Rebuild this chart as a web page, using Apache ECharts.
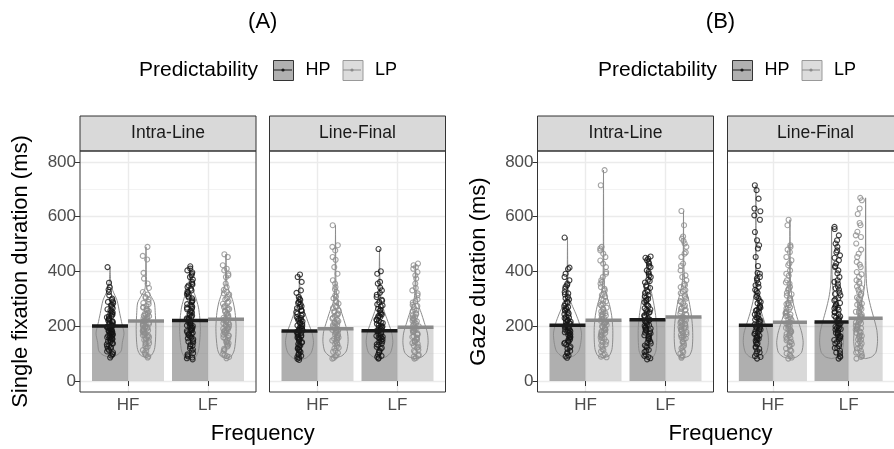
<!DOCTYPE html>
<html><head><meta charset="utf-8">
<script src="https://cdn.jsdelivr.net/npm/echarts@6/dist/echarts.min.js"></script>
<style>html,body{margin:0;padding:0;background:#fff}#c{width:894px;height:449px}</style>
</head><body><div id="c"></div>
<script>
// ---------------- data ----------------
const frequency = ['HF', 'LF'];
const predictability = ['HP', 'LP'];
const positions = ['Intra-Line', 'Line-Final'];
const measures = ['Single fixation duration (ms)', 'Gaze duration (ms)'];
const panelTitles = ['(A)', '(B)'];
const yTickValues = [0, 200, 400, 600, 800];

// mean durations by frequency [HF, LF]
const sfdIntraHP = [201, 221];
const sfdIntraLP = [219, 226];
const sfdFinalHP = [183, 184];
const sfdFinalLP = [191, 196];
const gdIntraHP = [204, 224];
const gdIntraLP = [222, 234];
const gdFinalHP = [204, 216];
const gdFinalLP = [215, 229];

// individual observations (estimated)
const p_sfd_intra_HF_HP = [416, 359, 343, 334, 325, 313, 301, 296, 290, 284, 279, 271, 266, 262, 255, 251, 246, 243, 238, 233, 229, 226, 221, 218, 214, 211, 207, 204, 201, 198, 195, 193, 190, 187, 184, 182, 179, 176, 173, 171, 168, 165, 161, 158, 154, 150, 147, 143, 139, 134, 129, 124, 118, 112, 105, 99, 93, 86,
  289, 276, 258, 248, 236, 224, 216, 209, 203, 197, 191, 186, 180, 175, 170, 166, 160, 156, 152, 145, 137, 127, 120, 108, 97];
const p_sfd_intra_HF_LP = [490, 457, 444, 395, 374, 356, 340, 325, 316, 307, 298, 289, 281, 274, 268, 261, 255, 249, 244, 239, 234, 229, 225, 221, 217, 213, 209, 206, 202, 199, 196, 192, 188, 185, 181, 178, 174, 170, 166, 162, 157, 152, 147, 141, 135, 128, 121, 113, 104, 95, 86,
  303, 285, 270, 258, 246, 237, 227, 219, 211, 204, 197, 190, 183, 176, 168, 160, 150, 138, 125, 110, 99, 90, 264, 242, 223, 208];
const p_sfd_intra_LF_HP = [419, 411, 404, 397, 392, 386, 380, 371, 362, 356, 349, 343, 337, 331, 323, 316, 309, 302, 295, 288, 281, 275, 268, 262, 256, 250, 245, 239, 234, 229, 224, 219, 214, 210, 205, 201, 196, 192, 187, 183, 178, 174, 169, 164, 159, 153, 147, 141, 134, 127, 119, 111, 102, 94, 86, 79,
  352, 327, 305, 291, 278, 265, 253, 242, 231, 221, 212, 203, 194, 185, 176, 167, 156, 144, 130, 115, 98, 90, 83, 318, 271, 226, 199, 172];
const p_sfd_intra_LF_LP = [463, 453, 423, 410, 404, 392, 386, 380, 356, 343, 333, 325, 316, 307, 298, 290, 282, 274, 267, 260, 253, 247, 241, 236, 231, 226, 221, 216, 211, 207, 202, 198, 193, 189, 184, 180, 175, 170, 165, 160, 154, 148, 141, 134, 126, 118, 109, 100, 91, 83,
  320, 302, 286, 270, 257, 244, 233, 223, 213, 204, 195, 186, 177, 167, 157, 144, 130, 114, 96, 88, 263, 218, 191, 138];
const p_sfd_final_HF_HP = [389, 380, 362, 331, 322, 307, 296, 289, 281, 273, 266, 259, 252, 246, 240, 234, 228, 223, 218, 213, 208, 203, 199, 195, 191, 187, 183, 179, 175, 171, 167, 163, 159, 155, 150, 145, 140, 135, 130, 124, 118, 112, 106, 99, 92, 85, 77,
  300, 285, 270, 256, 243, 231, 221, 211, 201, 193, 185, 177, 169, 161, 152, 142, 132, 121, 109, 96, 88, 81, 226, 188, 157, 115];
const p_sfd_final_HF_LP = [569, 496, 490, 477, 453, 443, 416, 392, 368, 356, 343, 325, 313, 302, 292, 283, 274, 266, 258, 251, 244, 237, 231, 225, 219, 214, 209, 204, 199, 194, 189, 185, 180, 176, 171, 166, 161, 156, 151, 145, 139, 133, 126, 119, 111, 103, 94, 85,
  335, 308, 288, 270, 255, 241, 228, 216, 206, 196, 187, 178, 169, 159, 148, 136, 122, 107, 90, 82, 247, 212, 183, 154];
const p_sfd_final_LF_HP = [482, 401, 392, 362, 356, 331, 322, 307, 297, 288, 280, 272, 264, 257, 250, 243, 237, 231, 225, 219, 214, 209, 204, 199, 194, 190, 185, 181, 176, 172, 167, 162, 158, 153, 148, 143, 137, 131, 125, 118, 111, 104, 96, 88, 82,
  341, 315, 293, 276, 260, 246, 234, 222, 212, 202, 192, 183, 174, 165, 155, 145, 134, 121, 107, 92, 85, 239, 196, 160];
const p_sfd_final_LF_LP = [429, 423, 416, 410, 398, 386, 374, 356, 331, 313, 298, 287, 278, 270, 262, 255, 248, 241, 235, 229, 223, 218, 213, 208, 203, 198, 193, 188, 184, 179, 174, 169, 164, 159, 154, 148, 142, 136, 129, 122, 114, 106, 97, 89, 82,
  340, 320, 292, 274, 258, 244, 232, 220, 210, 200, 191, 181, 171, 161, 151, 139, 125, 110, 93, 85, 226, 186, 145];
const p_gd_intra_HF_HP = [524, 414, 409, 392, 380, 368, 356, 345, 337, 325, 316, 307, 298, 290, 282, 274, 267, 260, 253, 247, 241, 235, 230, 225, 220, 215, 210, 206, 201, 197, 193, 188, 184, 180, 176, 171, 167, 162, 157, 152, 146, 140, 133, 126, 118, 110, 101, 93, 85,
  350, 320, 302, 286, 270, 256, 244, 232, 222, 212, 203, 195, 186, 178, 169, 160, 149, 137, 122, 105, 90, 263, 217, 182, 143];
const p_gd_intra_HF_LP = [770, 715, 490, 484, 477, 465, 453, 429, 416, 392, 380, 368, 356, 343, 331, 319, 309, 300, 291, 283, 275, 268, 261, 254, 248, 242, 236, 230, 225, 220, 215, 210, 205, 200, 195, 191, 186, 181, 176, 171, 166, 160, 154, 148, 141, 134, 126, 117, 108, 98, 89,
  440, 398, 362, 337, 314, 295, 279, 264, 251, 239, 227, 217, 207, 198, 188, 178, 168, 157, 144, 130, 113, 94, 87, 245, 212, 183];
const p_gd_intra_LF_HP = [455, 450, 447, 441, 429, 416, 404, 392, 380, 370, 360, 350, 340, 331, 322, 313, 304, 296, 288, 280, 273, 266, 259, 252, 246, 240, 234, 228, 222, 217, 212, 207, 202, 197, 192, 187, 182, 177, 172, 167, 162, 156, 150, 144, 137, 130, 122, 114, 106, 97, 88, 79,
  435, 420, 398, 385, 365, 345, 326, 309, 292, 277, 262, 249, 237, 225, 214, 204, 194, 184, 174, 164, 153, 140, 126, 110, 92, 83, 300, 255, 219, 189];
const p_gd_intra_LF_LP = [621, 569, 528, 520, 512, 502, 490, 465, 453, 429, 404, 386, 368, 355, 343, 332, 321, 311, 301, 292, 284, 276, 268, 261, 254, 247, 241, 235, 229, 223, 218, 212, 207, 202, 197, 192, 187, 182, 176, 171, 165, 159, 152, 145, 137, 129, 120, 111, 101, 92, 85,
  470, 420, 380, 350, 327, 306, 288, 272, 258, 244, 232, 220, 209, 199, 189, 179, 168, 156, 141, 125, 106, 89, 264, 226, 195, 162];
const p_gd_final_HF_HP = [715, 697, 666, 630, 620, 605, 589, 544, 514, 496, 484, 453, 392, 380, 368, 356, 344, 333, 322, 312, 302, 293, 284, 276, 268, 260, 253, 246, 239, 233, 227, 221, 215, 209, 204, 198, 193, 188, 182, 177, 172, 166, 160, 154, 148, 141, 134, 126, 118, 109, 100, 91, 82,
  420, 395, 375, 350, 328, 307, 289, 272, 257, 243, 230, 218, 207, 196, 185, 174, 163, 151, 137, 122, 105, 88, 265, 224, 190, 157];
const p_gd_final_HF_LP = [589, 569, 496, 490, 471, 453, 441, 423, 404, 392, 368, 356, 344, 333, 322, 312, 303, 294, 285, 277, 269, 261, 254, 247, 240, 234, 228, 222, 216, 210, 205, 199, 194, 189, 183, 178, 172, 167, 161, 155, 149, 142, 135, 127, 119, 110, 101, 91, 82,
  480, 430, 385, 360, 338, 317, 298, 281, 265, 251, 237, 225, 213, 202, 191, 180, 169, 157, 144, 130, 114, 96, 86, 243, 208, 175];
const p_gd_final_LF_HP = [563, 555, 532, 514, 502, 490, 477, 459, 441, 429, 416, 404, 380, 368, 356, 345, 334, 323, 313, 303, 294, 285, 276, 268, 260, 252, 245, 238, 231, 225, 219, 213, 207, 201, 195, 190, 184, 179, 173, 168, 162, 156, 150, 143, 136, 128, 120, 111, 101, 91, 82,
  470, 450, 420, 393, 362, 339, 318, 298, 281, 265, 250, 236, 223, 211, 199, 188, 176, 164, 151, 137, 121, 104, 88, 272, 229, 193, 159];
const p_gd_final_LF_LP = [669, 660, 630, 577, 569, 532, 526, 502, 465, 453, 435, 416, 398, 380, 368, 356, 345, 334, 324, 314, 305, 296, 287, 279, 271, 263, 256, 249, 242, 235, 229, 223, 217, 211, 205, 199, 193, 188, 182, 176, 170, 164, 158, 151, 144, 136, 128, 119, 110, 100, 91, 82,
  610, 545, 480, 425, 390, 362, 340, 319, 300, 283, 267, 253, 239, 226, 214, 202, 190, 178, 165, 152, 137, 121, 104, 88, 276, 232, 196];

// violin density profiles: [duration, relative density]
const v_sfd_intra_HF_HP = [[86,0],[95,0.5],[110,0.8],[140,0.88],[175,1],[210,0.85],[246,0.7],[295,0.5],[330,0.2],[360,0.06],[390,0.02],[416,0]];
const v_sfd_intra_HF_LP = [[85,0],[95,0.4],[115,0.6],[150,0.68],[200,0.7],[250,0.66],[285,0.6],[310,0.35],[335,0.08],[370,0.03],[420,0.015],[490,0]];
const v_sfd_intra_LF_HP = [[78,0],[88,0.4],[110,0.6],[150,0.7],[190,0.74],[230,0.7],[270,0.6],[310,0.38],[345,0.12],[380,0.04],[419,0]];
const v_sfd_intra_LF_LP = [[82,0],[92,0.4],[115,0.6],[160,0.7],[200,0.72],[250,0.65],[290,0.5],[325,0.26],[350,0.08],[400,0.02],[463,0]];
const v_sfd_final_HF_HP = [[77,0],[85,0.5],[105,0.85],[140,1],[175,0.9],[210,0.65],[245,0.4],[280,0.15],[310,0.05],[350,0.02],[389,0]];
const v_sfd_final_HF_LP = [[85,0],[92,0.45],[110,0.78],[145,0.9],[180,0.85],[220,0.62],[255,0.4],[290,0.15],[330,0.05],[420,0.02],[569,0]];
const v_sfd_final_LF_HP = [[82,0],[88,0.45],[105,0.8],[140,0.95],[175,0.88],[210,0.65],[245,0.4],[285,0.15],[320,0.05],[400,0.02],[482,0]];
const v_sfd_final_LF_LP = [[82,0],[88,0.45],[105,0.78],[140,0.9],[175,0.85],[215,0.62],[250,0.4],[285,0.15],[320,0.05],[380,0.02],[429,0]];
const v_gd_intra_HF_HP = [[85,0],[92,0.45],[110,0.8],[140,0.95],[175,1],[210,0.85],[245,0.6],[280,0.3],[310,0.1],[340,0.04],[420,0.015],[524,0]];
const v_gd_intra_HF_LP = [[85,0],[92,0.4],[115,0.6],[150,0.66],[195,0.66],[240,0.58],[280,0.42],[315,0.2],[345,0.07],[420,0.02],[600,0.01],[770,0]];
const v_gd_intra_LF_HP = [[78,0],[88,0.4],[110,0.6],[150,0.66],[195,0.66],[240,0.58],[285,0.44],[330,0.26],[370,0.1],[410,0.04],[455,0]];
const v_gd_intra_LF_LP = [[85,0],[92,0.4],[115,0.6],[155,0.66],[200,0.64],[245,0.55],[290,0.4],[330,0.2],[370,0.07],[450,0.02],[621,0]];
const v_gd_final_HF_HP = [[82,0],[88,0.45],[105,0.8],[140,0.95],[175,0.9],[215,0.65],[255,0.4],[300,0.18],[345,0.06],[420,0.02],[715,0]];
const v_gd_final_HF_LP = [[82,0],[88,0.5],[105,0.88],[140,1],[175,0.9],[215,0.65],[255,0.4],[300,0.18],[345,0.06],[420,0.02],[589,0]];
const v_gd_final_LF_HP = [[82,0],[88,0.45],[105,0.78],[140,0.9],[180,0.85],[220,0.65],[260,0.42],[305,0.2],[350,0.07],[430,0.02],[563,0]];
const v_gd_final_LF_LP = [[82,0],[88,0.45],[105,0.78],[145,0.9],[185,0.85],[225,0.65],[265,0.42],[310,0.2],[355,0.07],[440,0.02],[669,0]];

// ---------------- lookup tables [measure][position][...] ----------------
const MEANS = [
  [[sfdIntraHP, sfdIntraLP], [sfdFinalHP, sfdFinalLP]],
  [[gdIntraHP, gdIntraLP], [gdFinalHP, gdFinalLP]]
]; // [m][pos][pred][freq]
const PTS = [
  [[[p_sfd_intra_HF_HP, p_sfd_intra_HF_LP], [p_sfd_intra_LF_HP, p_sfd_intra_LF_LP]],
   [[p_sfd_final_HF_HP, p_sfd_final_HF_LP], [p_sfd_final_LF_HP, p_sfd_final_LF_LP]]],
  [[[p_gd_intra_HF_HP, p_gd_intra_HF_LP], [p_gd_intra_LF_HP, p_gd_intra_LF_LP]],
   [[p_gd_final_HF_HP, p_gd_final_HF_LP], [p_gd_final_LF_HP, p_gd_final_LF_LP]]]
]; // [m][pos][freq][pred]
const VIO = [
  [[[v_sfd_intra_HF_HP, v_sfd_intra_HF_LP], [v_sfd_intra_LF_HP, v_sfd_intra_LF_LP]],
   [[v_sfd_final_HF_HP, v_sfd_final_HF_LP], [v_sfd_final_LF_HP, v_sfd_final_LF_LP]]],
  [[[v_gd_intra_HF_HP, v_gd_intra_HF_LP], [v_gd_intra_LF_HP, v_gd_intra_LF_LP]],
   [[v_gd_final_HF_HP, v_gd_final_HF_LP], [v_gd_final_LF_HP, v_gd_final_LF_LP]]]
];

// ---------------- layout / style ----------------
const FONT = "'Liberation Sans', Arial, Helvetica, sans-serif";
const PANEL_LEFT = [80, 269.5, 537.5, 727.5];
const PW = 176, PT = 151, PH = 241;
const XMIN = 0.4, XMAX = 2.6, YMIN = -40, YMAX = 840;
const HALFBAR = 0.225, VHALF = 0.175;
const DODGE = [-0.225, 0.225];
const BAR_FILL = ['rgba(110,110,110,0.55)', 'rgba(185,185,185,0.55)'];
const PT_COLOR = ['#141414', '#8d8d8d'];
const MEAN_COLOR = ['#1a1a1a', '#8a8a8a'];
const VIO_COLOR = '#8c8c8c';
const STRIP_TOP = 116;

const grids = [], xAxes = [], yAxes = [], series = [], graphics = [];

for (let f = 0; f < 4; f++) {
  const m = f >> 1, pos = f & 1;
  const L = PANEL_LEFT[f];
  grids.push({left: L, top: PT, width: PW, height: PH, show: false, containLabel: false});
  xAxes.push({
    gridIndex: f, type: 'value', min: XMIN, max: XMAX,
    axisLine: {show: false},
    axisTick: {show: true, length: 5, lineStyle: {color: '#333', width: 1}, customValues: [1, 2]},
    axisLabel: {customValues: [1, 2], formatter: v => frequency[Math.round(v) - 1], color: '#4d4d4d', fontSize: 17, fontFamily: FONT, margin: 5},
    splitLine: {show: true, lineStyle: {color: '#ebebeb', width: 1.4}},
  });
  yAxes.push({
    gridIndex: f, type: 'value', min: YMIN, max: YMAX, splitNumber: 4,
    axisLine: {show: false},
    axisTick: {show: pos === 0, length: 5, lineStyle: {color: '#333', width: 1}, customValues: yTickValues},
    axisLabel: {show: pos === 0, customValues: yTickValues, color: '#4d4d4d', fontSize: 17, fontFamily: FONT, margin: 4},
    splitLine: {show: true, lineStyle: {color: '#ebebeb', width: 1.4}},
    minorTick: {show: false, splitNumber: 2},
    minorSplitLine: {show: true, lineStyle: {color: '#f3f3f3', width: 1}},
    name: pos === 0 ? measures[m] : '', nameLocation: 'middle', nameGap: 48,
    nameTextStyle: {fontSize: 22, color: '#000', fontFamily: FONT}
  });
}
// point grids (jittered along a category axis of frequency)
const unit = PW / (XMAX - XMIN);
for (let f = 0; f < 4; f++) {
  for (let k = 0; k < 2; k++) {
    const L = PANEL_LEFT[f];
    const cx = L + (1 + DODGE[k] - XMIN) * unit;
    grids.push({left: cx - unit / 2, top: PT, width: 2 * unit, height: PH, show: false});
    const gi = grids.length - 1;
    xAxes.push({gridIndex: gi, type: 'category', data: frequency, show: false, boundaryGap: true, jitter: 6.5, jitterOverlap: true});
    yAxes.push({gridIndex: gi, type: 'value', min: YMIN, max: YMAX, show: false});
  }
}

for (let f = 0; f < 4; f++) {
  const m = f >> 1, pos = f & 1;
  for (let k = 0; k < 2; k++) {
    const means = MEANS[m][pos][k];
    const centers = frequency.map((_, i) => i + 1 + DODGE[k]);
    // bars of means
    series.push({
      type: 'custom', name: predictability[k], xAxisIndex: f, yAxisIndex: f, z: 2,
      itemStyle: {color: BAR_FILL[k]},
      data: centers.map((c, i) => [c, means[i]]),
      renderItem: (params, api) => {
        const x = api.value(0), y = api.value(1);
        const p0 = api.coord([x - HALFBAR, y]), p1 = api.coord([x + HALFBAR, 0]);
        return {type: 'rect', shape: {x: p0[0], y: p0[1], width: p1[0] - p0[0], height: p1[1] - p0[1]}, style: {fill: BAR_FILL[k]}};
      }
    });
    // violins
    series.push({
      type: 'custom', name: predictability[k] + ' violin', xAxisIndex: f, yAxisIndex: f, z: 3,
      data: centers.map((c, i) => [c, i]),
      renderItem: (params, api) => {
        const x = api.value(0), fi = api.value(1);
        const prof = VIO[m][pos][fi][k];
        const right = prof.map(p => api.coord([x + p[1] * VHALF, p[0]]));
        const left = prof.slice().reverse().map(p => api.coord([x - p[1] * VHALF, p[0]]));
        return {type: 'polygon', shape: {points: right.concat(left), smooth: 0.25}, style: {fill: 'none', stroke: VIO_COLOR, lineWidth: 1}};
      }
    });
    // jittered points
    const pdata = [];
    frequency.forEach((fr, i) => PTS[m][pos][i][k].forEach(v => pdata.push([fr, v])));
    series.push({
      type: 'scatter', name: predictability[k] + ' obs', xAxisIndex: 4 + f * 2 + k, yAxisIndex: 4 + f * 2 + k, z: 4,
      symbol: 'circle', symbolSize: 5, silent: true,
      itemStyle: {color: 'rgba(255,255,255,0)', borderColor: PT_COLOR[k], borderWidth: 1.1},
      data: pdata
    });
    // mean lines
    series.push({
      type: 'custom', name: predictability[k] + ' mean', xAxisIndex: f, yAxisIndex: f, z: 5,
      data: centers.map((c, i) => [c, means[i]]),
      renderItem: (params, api) => {
        const x = api.value(0), y = api.value(1);
        const p0 = api.coord([x - HALFBAR, y]), p1 = api.coord([x + HALFBAR, y]);
        return {type: 'line', shape: {x1: p0[0], y1: p0[1], x2: p1[0], y2: p1[1]}, style: {stroke: MEAN_COLOR[k], lineWidth: 3.5}};
      }
    });
  }
}

// strips and panel borders
for (let f = 0; f < 4; f++) {
  const L = PANEL_LEFT[f], pos = f & 1;
  graphics.push({type: 'rect', z: 100, shape: {x: L, y: STRIP_TOP, width: PW, height: PT - STRIP_TOP}, style: {fill: '#d9d9d9', stroke: '#333', lineWidth: 1}});
  graphics.push({type: 'text', z: 101, x: L + PW / 2, y: (STRIP_TOP + PT) / 2, style: {text: positions[pos], fill: '#1a1a1a', fontSize: 17.5, fontFamily: FONT, align: 'center', verticalAlign: 'middle'}});
  graphics.push({type: 'rect', z: 100, shape: {x: L, y: PT, width: PW, height: PH}, style: {fill: 'none', stroke: '#333', lineWidth: 1}});
}
// panel titles, x titles, legend titles and key glyphs
const legendLeft = [273, 732];
for (let m = 0; m < 2; m++) {
  const cx = (PANEL_LEFT[2 * m] + PANEL_LEFT[2 * m + 1] + PW) / 2;
  graphics.push({type: 'text', x: cx, y: 22, style: {text: panelTitles[m], fill: '#000', fontSize: 22, fontFamily: FONT, align: 'center', verticalAlign: 'middle'}});
  graphics.push({type: 'text', x: cx, y: 434, style: {text: 'Frequency', fill: '#000', fontSize: 22, fontFamily: FONT, align: 'center', verticalAlign: 'middle'}});
  graphics.push({type: 'text', x: legendLeft[m] - 15, y: 70, style: {text: 'Predictability', fill: '#000', fontSize: 21, fontFamily: FONT, align: 'right', verticalAlign: 'middle'}});
  const keyX = [legendLeft[m] + 10, legendLeft[m] + 79];
  for (let k = 0; k < 2; k++) {
    graphics.push({type: 'line', z: 50, shape: {x1: keyX[k] - 9, y1: 70, x2: keyX[k] + 9, y2: 70}, style: {stroke: MEAN_COLOR[k], lineWidth: 1}});
    graphics.push({type: 'circle', z: 50, shape: {cx: keyX[k], cy: 70, r: 1.6}, style: {fill: MEAN_COLOR[k]}});
  }
}

const legendCommon = {
  top: 60, orient: 'horizontal', padding: 0, itemWidth: 20, itemHeight: 20, itemGap: 12, icon: 'rect', selectedMode: false,
  textStyle: {fontSize: 18, color: '#000', fontFamily: FONT, padding: [0, 0, 0, 7]},
  data: [
    {name: 'HP', itemStyle: {color: '#b0b0b0', borderColor: '#333', borderWidth: 1}},
    {name: 'LP', itemStyle: {color: '#dcdcdc', borderColor: '#999', borderWidth: 1}}
  ]
};

const chart = echarts.init(document.getElementById('c'), null, {renderer: 'canvas'});
chart.setOption({
  backgroundColor: '#fff',
  animation: false,
  textStyle: {fontFamily: FONT},
  grid: grids, xAxis: xAxes, yAxis: yAxes, series: series,
  legend: [Object.assign({left: legendLeft[0]}, legendCommon), Object.assign({left: legendLeft[1]}, legendCommon)],
  graphic: graphics
});
</script></body></html>
